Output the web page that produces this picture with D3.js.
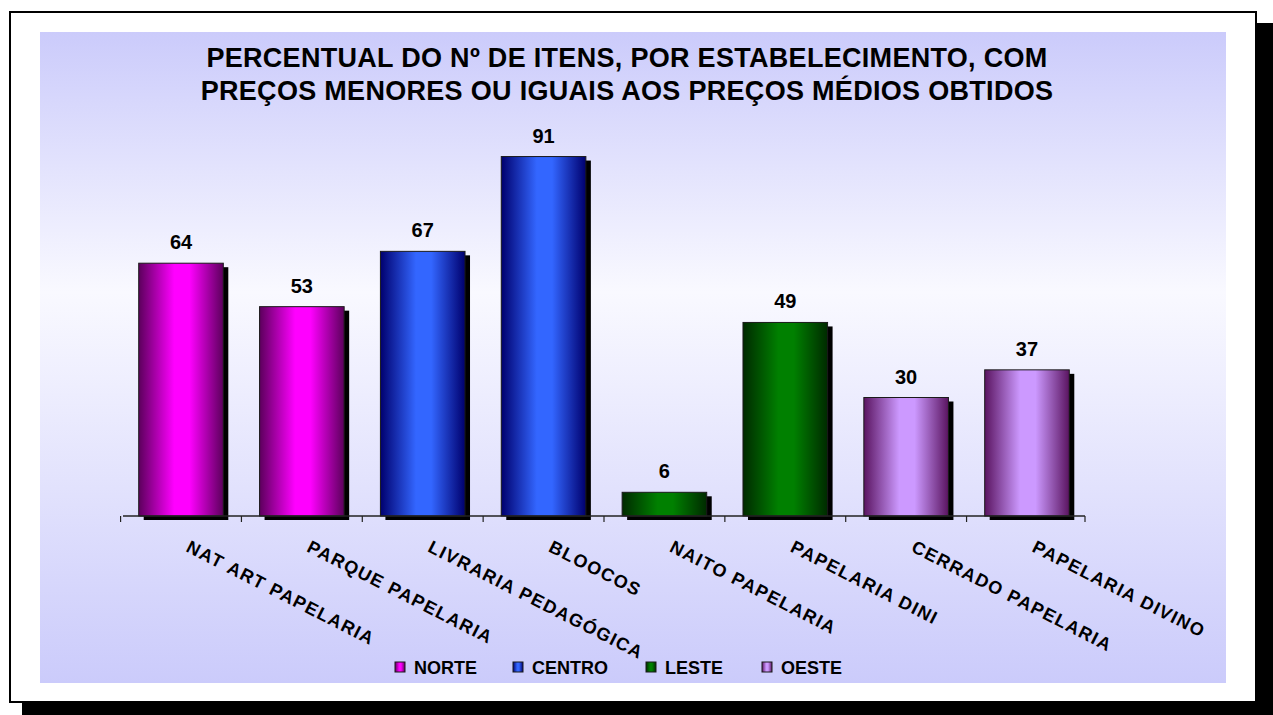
<!DOCTYPE html>
<html>
<head>
<meta charset="utf-8">
<script src="https://cdn.jsdelivr.net/npm/d3@7"></script>
<style>
  body { margin: 0; background: #ffffff; }
  text { font-family: Arial, "Liberation Sans", sans-serif; font-weight: bold; }
</style>
</head>
<body>
<div id="chart"></div>
<script>
// data
var stores = ['NAT ART PAPELARIA', 'PARQUE PAPELARIA', 'LIVRARIA PEDAGÓGICA', 'BLOOCOS',
              'NAITO PAPELARIA', 'PAPELARIA DINI', 'CERRADO PAPELARIA', 'PAPELARIA DIVINO'];
var values = [64, 53, 67, 91, 6, 49, 30, 37];
var regionOf = ['NORTE', 'NORTE', 'CENTRO', 'CENTRO', 'LESTE', 'LESTE', 'OESTE', 'OESTE'];
var regions = ['NORTE', 'CENTRO', 'LESTE', 'OESTE'];
var titleLines = ['PERCENTUAL DO Nº DE ITENS, POR ESTABELECIMENTO, COM',
                  'PREÇOS MENORES OU IGUAIS AOS PREÇOS MÉDIOS OBTIDOS'];

// gradient colours per region: edge / centre
var edgeColors = ['#5c005c', '#00006e', '#002a00', '#5a1460'];
var midColors = ['#ff00ff', '#3366ff', '#008000', '#cc99ff'];

var W = 1273, H = 715;

var svg = d3.select("#chart")
    .append("svg")
    .attr("width", W)
    .attr("height", H);

var defs = svg.append("defs");

// background gradient of the plot area
var bg = defs.append("linearGradient")
    .attr("id", "bgGrad")
    .attr("x1", 0).attr("y1", 0).attr("x2", 0).attr("y2", 1);
bg.append("stop").attr("offset", "0%").attr("stop-color", "#cbcbfb");
bg.append("stop").attr("offset", "40%").attr("stop-color", "#f9f9ff");
bg.append("stop").attr("offset", "100%").attr("stop-color", "#cbcbfb");

// one horizontal gradient per region for the bars
regions.forEach(function(r, i) {
    var g = defs.append("linearGradient")
        .attr("id", "bar" + i)
        .attr("x1", 0).attr("y1", 0).attr("x2", 1).attr("y2", 0);
    g.append("stop").attr("offset", "0%").attr("stop-color", edgeColors[i]);
    g.append("stop").attr("offset", "42%").attr("stop-color", midColors[i]);
    g.append("stop").attr("offset", "60%").attr("stop-color", midColors[i]);
    g.append("stop").attr("offset", "100%").attr("stop-color", edgeColors[i]);
});

// outer frame with shadow
svg.append("rect")
    .attr("x", 22).attr("y", 23)
    .attr("width", 1251).attr("height", 694)
    .attr("fill", "#000");
svg.append("rect")
    .attr("x", 10).attr("y", 12)
    .attr("width", 1246).attr("height", 690)
    .attr("fill", "#fff")
    .attr("stroke", "#000")
    .attr("stroke-width", 2);

// plot area
svg.append("rect")
    .attr("x", 40).attr("y", 32)
    .attr("width", 1186).attr("height", 651)
    .attr("fill", "url(#bgGrad)");

// title
svg.append("g")
    .selectAll("text")
    .data(titleLines)
    .enter()
    .append("text")
    .attr("x", 627)
    .attr("y", function(d, i) { return 67 + i * 33; })
    .attr("text-anchor", "middle")
    .style("font-size", "27px")
    .style("letter-spacing", "0.3px")
    .text(function(d) { return d; });

// scales
var x = d3.scaleBand()
    .domain(stores)
    .range([123, 1085])
    .paddingInner(0.3)
    .paddingOuter(0.13);

var y = d3.scaleLinear()
    .domain([0, 100])
    .range([516, 121]);

var colorIndex = function(i) { return regions.indexOf(regionOf[i]); };

// bar shadows
svg.append("g")
    .selectAll("rect")
    .data(values)
    .enter()
    .append("rect")
    .attr("x", function(d, i) { return x(stores[i]) + 5; })
    .attr("y", function(d) { return y(d) + 4; })
    .attr("width", x.bandwidth())
    .attr("height", function(d) { return y(0) - y(d); })
    .attr("fill", "#000");

// bars
svg.append("g")
    .selectAll("rect")
    .data(values)
    .enter()
    .append("rect")
    .attr("x", function(d, i) { return x(stores[i]); })
    .attr("y", function(d) { return y(d); })
    .attr("width", x.bandwidth())
    .attr("height", function(d) { return y(0) - y(d); })
    .attr("fill", function(d, i) { return "url(#bar" + colorIndex(i) + ")"; })
    .attr("stroke", "#1a1a1a")
    .attr("stroke-width", 1);

// value labels
svg.append("g")
    .selectAll("text")
    .data(values)
    .enter()
    .append("text")
    .attr("x", function(d, i) { return x(stores[i]) + x.bandwidth() / 2; })
    .attr("y", function(d) { return y(d) - 14; })
    .attr("text-anchor", "middle")
    .style("font-size", "20px")
    .text(function(d) { return d; });

// category axis: line + ticks between categories
var tickPos = stores.map(function(s) { return x(s) - x.step() * x.paddingInner() / 2; });
tickPos.push(1085);
var axis = svg.append("g");
axis.append("line")
    .attr("x1", 123).attr("x2", 1085)
    .attr("y1", y(0)).attr("y2", y(0))
    .attr("stroke", "#222")
    .attr("stroke-width", 1.5);
axis.selectAll("line.tick")
    .data(tickPos)
    .enter()
    .append("line")
    .attr("class", "tick")
    .attr("x1", function(d) { return d; }).attr("x2", function(d) { return d; })
    .attr("y1", y(0)).attr("y2", y(0) + 6)
    .attr("stroke", "#222")
    .attr("stroke-width", 1.2);

// rotated category labels
axis.selectAll("text")
    .data(stores)
    .enter()
    .append("text")
    .attr("transform", function(d) {
        return "translate(" + (x(d) + x.bandwidth() / 2 + 4) + "," + (y(0) + 35) + ")rotate(27)";
    })
    .attr("text-anchor", "start")
    .style("font-size", "18px")
    .style("letter-spacing", "1.4px")
    .text(function(d) { return d; });

// legend
var legendX = [395, 513, 646, 762];
var legend = svg.append("g");
legend.selectAll("rect")
    .data(regions)
    .enter()
    .append("rect")
    .attr("x", function(d, i) { return legendX[i]; })
    .attr("y", 662)
    .attr("width", 10).attr("height", 10)
    .attr("fill", function(d, i) { return "url(#bar" + i + ")"; })
    .attr("stroke", "#1a1a1a")
    .attr("stroke-width", 1);
legend.selectAll("text")
    .data(regions)
    .enter()
    .append("text")
    .attr("x", function(d, i) { return legendX[i] + 19; })
    .attr("y", 674)
    .style("font-size", "18px")
    .text(function(d) { return d; });
</script>
</body>
</html>
